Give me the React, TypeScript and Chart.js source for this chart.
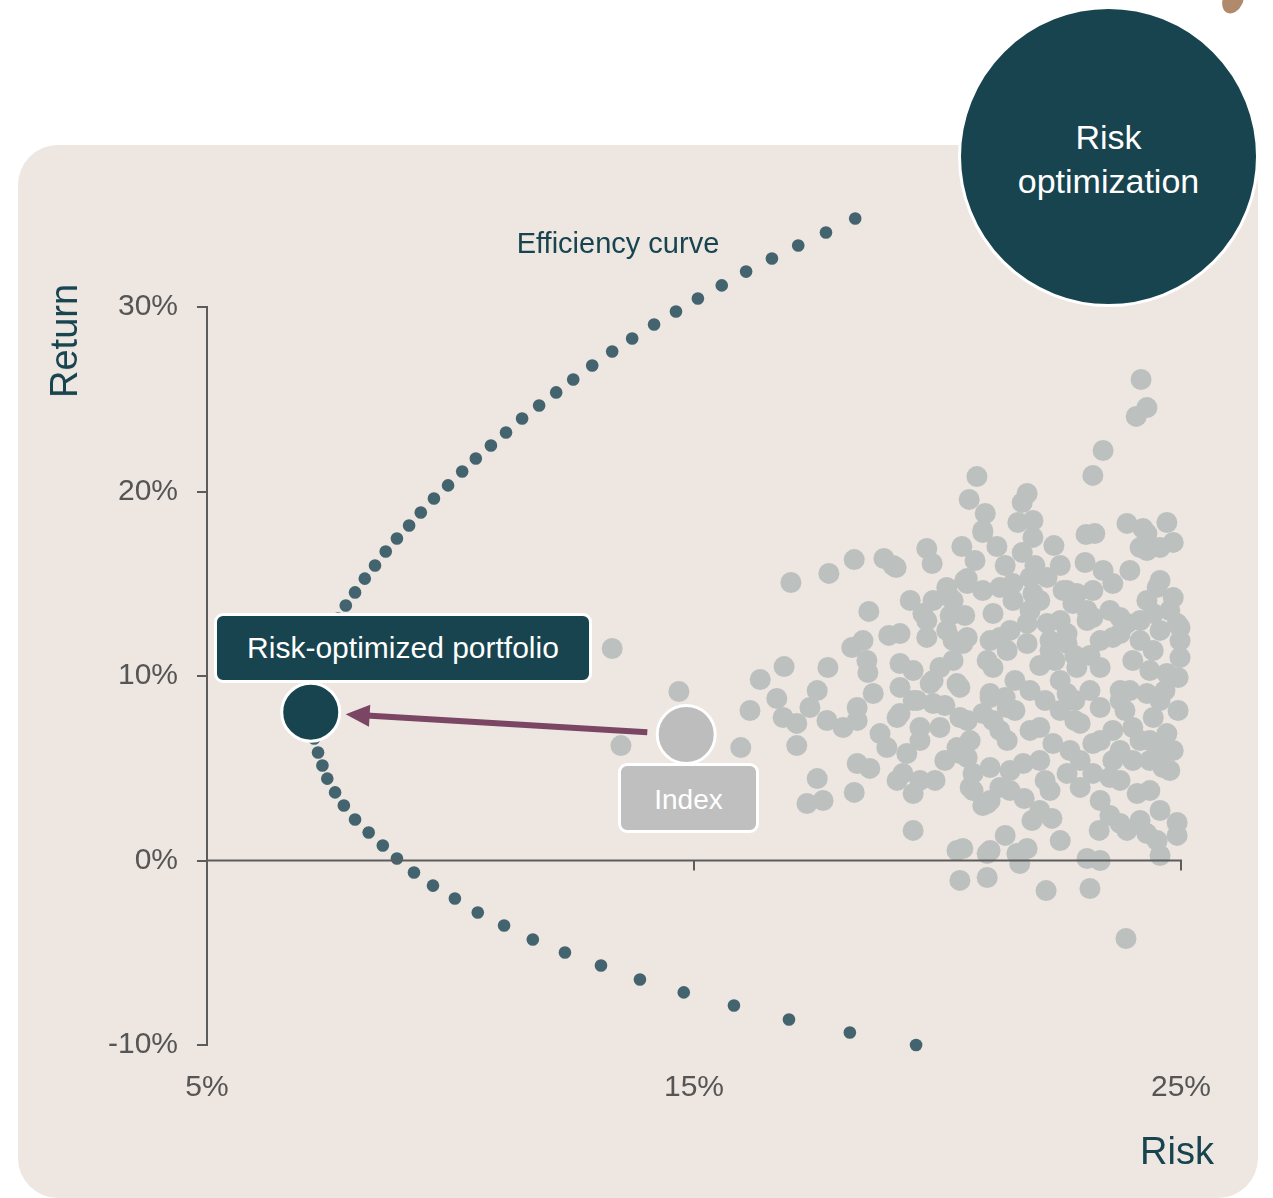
import React, { useEffect, useRef } from 'react';
import { Chart, registerables } from 'chart.js';

Chart.register(...registerables);

// ---------- data ----------
const xTicks = [5, 15, 25];
const yTicks = [-10, 0, 10, 20, 30];
const yAxisMin = -10;
const yAxisMax = 30;

// Efficiency curve (risk %, return %)
const curveRisk = [
  18.31, 17.71, 17.14, 16.6, 16.07, 15.57, 15.08, 14.63, 14.18, 13.73, 13.32, 12.91, 12.52, 12.17, 11.82, 11.47,
  11.14, 10.83, 10.52, 10.24, 9.95, 9.66, 9.39, 9.15, 8.9, 8.67, 8.45, 8.24, 8.04, 7.85, 7.69, 7.52, 7.4, 7.29,
  7.21, 7.16, 7.13, 7.13, 7.15, 7.2, 7.28, 7.37, 7.47, 7.63, 7.81, 8.04, 8.32, 8.61, 8.9, 9.25, 9.64, 10.09,
  10.56, 11.1, 11.69, 12.35, 13.09, 13.89, 14.79, 15.82, 16.95, 18.2, 19.56,
];
const curveReturn = [
  34.8, 34.04, 33.33, 32.63, 31.92, 31.17, 30.46, 29.76, 29.05, 28.29, 27.59, 26.83, 26.07, 25.37, 24.66, 23.96,
  23.2, 22.49, 21.79, 21.08, 20.33, 19.62, 18.86, 18.16, 17.45, 16.75, 15.99, 15.28, 14.53, 13.82, 13.12, 12.36,
  11.65, 10.95, 10.19, 9.49, 8.78, 8.02, 7.32, 6.61, 5.85, 5.15, 4.44, 3.69, 2.98, 2.22, 1.52, 0.81, 0.11, -0.65,
  -1.36, -2.06, -2.82, -3.52, -4.28, -4.99, -5.69, -6.45, -7.15, -7.86, -8.62, -9.32, -10.0,
];

// Individual stocks (risk %, return %)
const stockRisk = [
  13.32, 14.69, 13.5, 15.96, 16.15, 16.36, 16.85, 16.7, 16.83, 17.11, 17.11, 16.99, 17.77, 18.29, 18.9, 19.15,
  19.78, 19.89, 20.5, 20.93, 18.59, 19.0, 18.24, 18.47, 18.55, 18.57, 17.38, 17.53, 17.75, 17.73, 18.06, 18.35,
  18.35, 18.68, 18.82, 19.23, 19.23, 19.23, 19.5, 19.5, 19.64, 19.91, 19.91, 20.05, 19.37, 19.64, 19.5, 19.17,
  18.35, 18.61, 17.53, 17.65, 17.32, 18.29, 19.5, 20.26, 19.78, 19.78, 20.32, 20.61, 20.93, 20.32, 20.46, 20.61,
  20.46, 20.73, 21.02, 20.4, 21.08, 21.28, 21.14, 21.08, 21.14, 21.08, 21.14, 24.18, 24.3, 24.08, 23.4, 23.19,
  20.81, 20.65, 20.98, 20.93, 21.22, 21.84, 21.74, 21.65, 21.96, 21.96, 22.39, 21.74, 22.0, 22.25, 23.05, 23.23,
  23.03, 23.4, 23.6, 23.19, 23.89, 24.3, 24.71, 24.84, 24.3, 24.16, 24.57, 24.51, 24.3, 24.84, 24.92, 23.89,
  23.6, 24.77, 24.43, 23.75, 22.58, 22.86, 22.1, 21.55, 21.55, 20.56, 20.19, 19.91, 19.7, 20.61, 20.32, 21.28,
  21.9, 21.96, 22.25, 21.84, 22.66, 22.78, 22.66, 23.07, 23.19, 20.19, 20.61, 21.28, 21.84, 19.23, 19.09, 24.22,
  21.9, 22.31, 22.66, 23.07, 22.86, 23.34, 23.75, 24.01, 24.43, 24.71, 24.3, 23.75, 23.34, 22.93, 23.6, 24.01,
  24.43, 24.71, 22.1, 22.66, 23.19, 21.9, 22.52, 22.37, 22.66, 22.93, 23.19, 23.54, 23.6, 24.01, 21.76, 21.43,
  21.08, 21.08, 20.73, 20.61, 20.4, 20.46, 20.93, 21.08, 21.43, 20.4, 20.05, 19.85, 19.58, 19.17, 18.96, 19.29,
  19.64, 20.52, 21.02, 21.43, 24.1, 24.57, 24.92, 24.92, 24.51, 24.57, 24.3, 23.75, 23.32, 22.52, 22.35, 21.94,
  21.78, 21.39, 20.52, 20.46, 21.02, 21.02, 21.63, 21.84, 21.69, 22.23, 23.13, 23.07, 23.34, 23.87, 20.93, 20.67,
  24.98, 24.98, 24.94, 24.94, 24.84, 24.63, 24.51, 24.98, 21.49, 22.41, 22.21, 21.59, 22.82, 23.13, 23.95, 24.36,
  24.16, 23.75, 24.57, 23.85, 22.72, 22.1, 21.49, 22.31, 23.34, 24.36, 24.77, 23.75, 22.52, 23.34, 22.82, 22.1,
  21.28, 20.67, 20.15, 19.95, 21.9, 22.52, 23.54, 24.16, 24.57, 24.57, 23.95, 22.52, 21.39, 20.77, 20.26, 19.44,
  21.59, 20.15, 22.93, 24.36, 22.1, 23.54, 24.16, 23.89, 21.39, 23.75, 22.31, 23.13, 20.56, 24.16, 22.82, 23.34,
  22.21, 21.49, 24.67, 24.36,
];
const stockReturn = [
  11.49, 9.16, 6.23, 6.12, 8.13, 9.81, 10.51, 8.78, 7.75, 7.43, 6.23, 15.07, 15.56, 16.31, 16.37, 15.88,
  16.91, 16.1, 17.02, 17.89, 13.5, 12.2, 11.54, 11.92, 10.84, 10.19, 8.29, 9.21, 10.46, 7.59, 7.21, 8.29,
  7.59, 9.05, 6.88, 10.68, 9.38, 7.97, 10.3, 8.67, 7.21, 9.76, 8.51, 7.21, 5.8, 4.34, 3.63, 4.34,
  5.26, 4.99, 4.44, 3.25, 3.09, 3.69, 1.63, 14.25, 13.01, 12.09, 11.92, 15.01, 14.63, 10.84, 9.38, 7.59,
  5.8, 4.72, 3.09, 0.54, 0.54, 3.96, 7.59, 9.05, 10.46, 11.92, 13.39, 26.07, 24.55, 24.07, 22.22, 20.87,
  20.81, 19.57, 18.81, 17.78, 17.02, 19.89, 19.4, 18.32, 18.43, 17.51, 17.07, 16.69, 15.99, 15.34, 17.67, 17.72,
  16.15, 15.72, 15.01, 14.63, 18.27, 17.72, 18.32, 17.24, 16.8, 16.96, 16.96, 14.8, 14.09, 14.25, 12.85, 12.85,
  12.09, 13.55, 13.39, 13.17, 14.63, 14.47, 14.09, 14.09, 15.01, 15.18, 14.8, 14.09, 13.39, 15.28, 14.09, 14.8,
  15.34, 14.47, 12.85, 12.85, 14.63, 13.93, 12.3, 13.55, 13.17, 12.47, 12.09, 12.09, 11.76, 12.3, 15.99, 17.99,
  13.55, 11.38, 11.76, 13.01, 10.46, 10.46, 12.3, 10.84, 11.38, 10.14, 9.05, 8.67, 8.29, 7.43, 7.05, 7.21,
  7.75, 6.88, 7.21, 9.05, 6.34, 9.21, 8.13, 6.34, 4.72, 3.96, 4.72, 4.5, 5.42, 5.42, 5.26, 6.5,
  5.04, 3.25, 3.79, 5.58, 6.12, 7.75, 7.97, 8.83, 8.29, 9.59, 10.46, 9.59, 8.67, 7.75, 6.12, 4.72,
  6.5, 11.76, 10.84, 11.38, 3.63, 2.71, 2.06, 1.36, 1.08, 0.27, 1.46, 2.01, 1.63, 1.08, 2.28, 2.17,
  3.36, 1.36, 0.65, -1.08, 0.38, -0.92, 0.38, 0.65, -0.16, -1.63, -1.52, 0.11, 0.0, -4.23, 2.98, 3.96,
  11.92, 11.0, 9.92, 8.13, 5.96, 5.04, 5.96, 12.63, 12.47, 10.84, 8.67, 9.76, 8.67, 9.21, 9.21, 10.3,
  6.5, 5.96, 8.67, 8.13, 5.96, 5.42, 4.88, 3.79, 3.25, 3.79, 4.88, 4.34, 13.01, 11.92, 11.11, 10.57,
  7.05, 6.5, 5.42, 4.34, 7.05, 9.76, 13.55, 13.01, 12.47, 15.18, 15.72, 15.99, 15.99, 16.26, 13.28, 14.09,
  8.13, 8.4, 5.42, 5.42, 2.71, 2.44, 2.17, 1.63, 8.83, 9.21, 11.92, 11.11, 13.28, 11.92, 7.59, 6.5,
  4.34, 3.79, 9.21, 6.5,
];

const indexRisk = [14.84];
const indexReturn = [6.83];
const optimizedRisk = [7.13];
const optimizedReturn = [8.04];

// ---------- styles ----------
const W = 1273;
const H = 1198;
const TEAL = '#17444f';
const CURVE = '#43646e';
const STOCK = '#bcc1c0';
const INDEX = '#bdbdbd';
const ARROW = '#7b4664';
const AXIS = '#5c5c5c';
const TICK = '#555555';
const BG = '#ede6e1';
const FONT = "'Liberation Sans', Arial, Helvetica, sans-serif";

const toPoints = (xs: number[], ys: number[]) => xs.map((x, i) => ({ x, y: ys[i] }));

const axesPlugin = {
  id: 'axesBehind',
  beforeDatasetsDraw(chart: any) {
    const { ctx, chartArea, scales } = chart;
    const y = scales.y;
    const top = y.getPixelForValue(yAxisMax);
    const bottom = y.getPixelForValue(yAxisMin);
    ctx.save();
    ctx.strokeStyle = AXIS;
    ctx.lineWidth = 2;
    ctx.beginPath();
    ctx.moveTo(chartArea.left, top - 1);
    ctx.lineTo(chartArea.left, bottom + 1);
    ctx.stroke();
    ctx.restore();
  },
};

const overlayPlugin = {
  id: 'overlayAxisArrow',
  afterDatasetsDraw(chart: any) {
    const { ctx, chartArea, scales } = chart;
    const x = scales.x;
    const y = scales.y;
    const y0 = y.getPixelForValue(0);
    ctx.save();
    // zero line with tick marks
    ctx.strokeStyle = AXIS;
    ctx.lineWidth = 2;
    ctx.beginPath();
    ctx.moveTo(chartArea.left, y0);
    ctx.lineTo(chartArea.right + 1, y0);
    for (const t of xTicks) {
      const px = Math.round(x.getPixelForValue(t));
      ctx.moveTo(px, y0);
      ctx.lineTo(px, y0 + 10);
    }
    ctx.stroke();

    // arrow from index to optimized portfolio
    const ix = x.getPixelForValue(indexRisk[0]);
    const iy = y.getPixelForValue(indexReturn[0]);
    const ox = x.getPixelForValue(optimizedRisk[0]);
    const oy = y.getPixelForValue(optimizedReturn[0]);
    const dx = ox - ix;
    const dy = oy - iy;
    const len = Math.hypot(dx, dy);
    const ux = dx / len;
    const uy = dy / len;
    const sx = ix + ux * 39;
    const sy = iy + uy * 39;
    const ex = ox - ux * 35;
    const ey = oy - uy * 35;
    const headLen = 24;
    const headW = 11;
    const bx = ex - ux * headLen;
    const by = ey - uy * headLen;
    ctx.strokeStyle = ARROW;
    ctx.lineWidth = 6;
    ctx.beginPath();
    ctx.moveTo(sx, sy);
    ctx.lineTo(bx + ux * 3, by + uy * 3);
    ctx.stroke();
    ctx.fillStyle = ARROW;
    ctx.beginPath();
    ctx.moveTo(ex, ey);
    ctx.lineTo(bx - uy * headW, by + ux * headW);
    ctx.lineTo(bx + uy * headW, by - ux * headW);
    ctx.closePath();
    ctx.fill();
    ctx.restore();
  },
};

export default function App() {
  const canvasRef = useRef<HTMLCanvasElement | null>(null);

  useEffect(() => {
    if (!canvasRef.current) return;
    const chart = new Chart(canvasRef.current, {
      type: 'scatter',
      data: {
        datasets: [
          {
            label: 'Risk-optimized portfolio',
            data: toPoints(optimizedRisk, optimizedReturn),
            pointRadius: 29,
            backgroundColor: TEAL,
            borderColor: '#ffffff',
            borderWidth: 3,
            order: 0,
            clip: false,
          } as any,
          {
            label: 'Index',
            data: toPoints(indexRisk, indexReturn),
            pointRadius: 29,
            backgroundColor: INDEX,
            borderColor: '#ffffff',
            borderWidth: 3,
            order: 1,
            clip: false,
          },
          {
            label: 'Efficiency curve',
            data: toPoints(curveRisk, curveReturn),
            pointRadius: 6.3,
            backgroundColor: CURVE,
            borderWidth: 0,
            order: 2,
            clip: false,
          },
          {
            label: 'Stocks',
            data: toPoints(stockRisk, stockReturn),
            pointRadius: 10.5,
            backgroundColor: STOCK,
            borderWidth: 0,
            order: 3,
            clip: false,
          },
        ],
      },
      options: {
        animation: false,
        responsive: false,
        maintainAspectRatio: false,
        events: [],
        // top padding leaves room so the scale runs to 36% (curve rises above the 30% axis end)
        layout: { padding: { left: 0, right: 92, top: 196.3, bottom: 0 } },
        plugins: { legend: { display: false }, tooltip: { enabled: false } },
        scales: {
          x: {
            type: 'linear',
            min: 5,
            max: 25,
            afterBuildTicks: (s: any) => {
              s.ticks = xTicks.map((v) => ({ value: v }));
            },
            afterFit: (s: any) => {
              s.height = 153;
            },
            grid: { display: false },
            border: { display: false },
            ticks: {
              padding: 17,
              color: TICK,
              font: { family: FONT, size: 30 },
              callback: (v: any) => v + '%',
            },
          },
          y: {
            type: 'linear',
            min: -10,
            max: 36,
            afterBuildTicks: (s: any) => {
              s.ticks = yTicks.map((v) => ({ value: v }));
            },
            afterFit: (s: any) => {
              s.width = 207;
            },
            grid: {
              display: true,
              drawOnChartArea: false,
              drawTicks: true,
              tickLength: 10,
              color: AXIS,
              lineWidth: 2,
            },
            border: { display: false },
            ticks: {
              padding: 19,
              color: TICK,
              font: { family: FONT, size: 30 },
              callback: (v: any) => v + '%',
            },
          },
        },
      },
      plugins: [axesPlugin, overlayPlugin],
    });
    return () => chart.destroy();
  }, []);

  const abs: React.CSSProperties = { position: 'absolute' };

  return (
    <div
      style={{
        position: 'fixed',
        left: 0,
        top: 0,
        width: W,
        height: H,
        background: '#ffffff',
        overflow: 'hidden',
        fontFamily: FONT,
      }}
    >
      <div style={{ ...abs, left: 18, top: 145, width: 1240, height: 1053, borderRadius: 40, background: BG }} />
      <div
        style={{
          ...abs,
          left: 1223,
          top: -14,
          width: 20,
          height: 28,
          borderRadius: '50%',
          background: '#b08a6a',
          transform: 'rotate(25deg)',
        }}
      />
      <canvas ref={canvasRef} width={W} height={H} style={{ ...abs, left: 0, top: 0, width: W, height: H }} />

      <div
        style={{
          ...abs,
          left: 64,
          top: 341,
          transform: 'translate(-50%, -50%) rotate(-90deg)',
          fontSize: 38,
          lineHeight: 1,
          color: TEAL,
          whiteSpace: 'nowrap',
        }}
      >
        Return
      </div>
      <div
        style={{
          ...abs,
          left: 1177,
          top: 1151,
          transform: 'translate(-50%, -50%)',
          fontSize: 38,
          lineHeight: 1,
          color: TEAL,
          whiteSpace: 'nowrap',
        }}
      >
        Risk
      </div>
      <div
        style={{
          ...abs,
          left: 618,
          top: 243,
          transform: 'translate(-50%, -50%)',
          fontSize: 29,
          lineHeight: 1,
          color: TEAL,
          whiteSpace: 'nowrap',
        }}
      >
        Efficiency curve
      </div>

      <div
        style={{
          ...abs,
          left: 214,
          top: 613,
          width: 378,
          height: 70,
          boxSizing: 'border-box',
          border: '3px solid #ffffff',
          borderRadius: 9,
          background: TEAL,
          color: '#ffffff',
          fontSize: 30,
          display: 'flex',
          alignItems: 'center',
          justifyContent: 'center',
          whiteSpace: 'nowrap',
        }}
      >
        Risk-optimized portfolio
      </div>
      <div
        style={{
          ...abs,
          left: 618,
          top: 763,
          width: 141,
          height: 70,
          boxSizing: 'border-box',
          border: '3px solid #ffffff',
          borderRadius: 9,
          background: '#bfbfbf',
          color: '#ffffff',
          fontSize: 28,
          display: 'flex',
          alignItems: 'center',
          justifyContent: 'center',
          paddingTop: 4,
        }}
      >
        Index
      </div>

      <div
        style={{
          ...abs,
          left: 958,
          top: 6,
          width: 301,
          height: 301,
          boxSizing: 'border-box',
          border: '3px solid #ffffff',
          borderRadius: '50%',
          background: TEAL,
          color: '#ffffff',
          display: 'flex',
          alignItems: 'center',
          justifyContent: 'center',
          textAlign: 'center',
          fontSize: 34,
          lineHeight: '44px',
          paddingTop: 4,
        }}
      >
        <div>
          Risk
          <br />
          optimization
        </div>
      </div>
    </div>
  );
}
